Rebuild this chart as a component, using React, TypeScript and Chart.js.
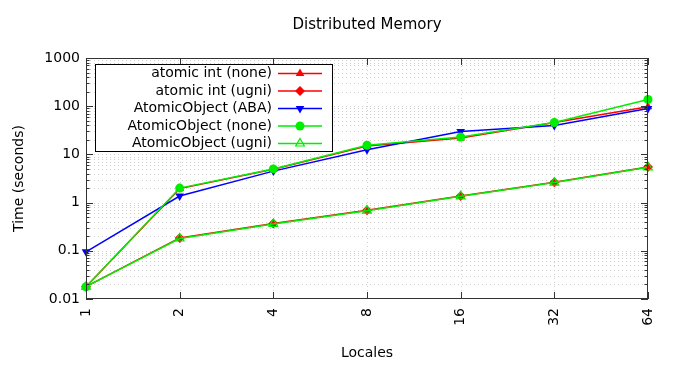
import React, { useEffect, useRef } from 'react';
import { Chart, registerables } from 'chart.js';

Chart.register(...registerables);

const locales = ['1', '2', '4', '8', '16', '32', '64'];

const atomicIntNone = [0.018, 1.95, 4.9, 15, 22, 46, 97];
const atomicIntUgni = [0.018, 0.185, 0.37, 0.69, 1.37, 2.63, 5.5];
const atomicObjectABA = [0.095, 1.37, 4.5, 12.5, 30, 40, 90];
const atomicObjectNone = [0.018, 2.0, 5.0, 15.5, 23, 46, 138];
const atomicObjectUgni = [0.018, 0.18, 0.36, 0.68, 1.35, 2.6, 5.4];

const seriesNames = [
  'atomic int (none)',
  'atomic int (ugni)',
  'AtomicObject (ABA)',
  'AtomicObject (none)',
  'AtomicObject (ugni)',
];
const seriesData = [atomicIntNone, atomicIntUgni, atomicObjectABA, atomicObjectNone, atomicObjectUgni];
const seriesColors = ['#ff0000', '#ff0000', '#0000ff', '#00ee00', '#00ee00'];
const seriesMarkers = ['triangle', 'diamond', 'invtriangle', 'circle', 'opentriangle'];

const yTickValues = [0.01, 0.1, 1, 10, 100, 1000];
const yTickLabels = ['0.01', '0.1', '1', '10', '100', '1000'];

const titleText = 'Distributed Memory';
const xTitle = 'Locales';
const yTitle = 'Time (seconds)';

const FONT = '"DejaVu Sans", sans-serif';

function drawMarker(ctx: CanvasRenderingContext2D, kind: string, x: number, y: number, color: string) {
  const r = 5;
  ctx.save();
  ctx.fillStyle = color;
  ctx.strokeStyle = color;
  ctx.lineWidth = 1.2;
  ctx.setLineDash([]);
  ctx.beginPath();
  if (kind === 'triangle' || kind === 'opentriangle') {
    for (let k = 0; k < 3; k++) {
      const a = (k * 2 * Math.PI) / 3;
      const px = x + Math.sin(a) * r;
      const py = y - Math.cos(a) * r;
      if (k === 0) ctx.moveTo(px, py); else ctx.lineTo(px, py);
    }
    ctx.closePath();
  } else if (kind === 'invtriangle') {
    for (let k = 0; k < 3; k++) {
      const a = (k * 2 * Math.PI) / 3 + Math.PI;
      const px = x + Math.sin(a) * r;
      const py = y - Math.cos(a) * r;
      if (k === 0) ctx.moveTo(px, py); else ctx.lineTo(px, py);
    }
    ctx.closePath();
  } else if (kind === 'diamond') {
    ctx.moveTo(x, y - r);
    ctx.lineTo(x + r, y);
    ctx.lineTo(x, y + r);
    ctx.lineTo(x - r, y);
    ctx.closePath();
  } else {
    ctx.arc(x, y, 4.5, 0, Math.PI * 2);
  }
  if (kind === 'opentriangle') ctx.stroke(); else ctx.fill();
  ctx.restore();
}

const decorPlugin = {
  id: 'decor',
  beforeDatasetsDraw(chart: any) {
    const { ctx, chartArea: a, scales } = chart;
    const x = scales.x;
    const y = scales.y;
    ctx.save();
    ctx.strokeStyle = '#cfcfcf';
    ctx.lineWidth = 1;
    ctx.setLineDash([1, 3]);
    for (let d = -2; d <= 2; d++) {
      for (let m = 1; m <= 9; m++) {
        const v = m * Math.pow(10, d);
        const py = Math.round(y.getPixelForValue(v)) + 0.5;
        if (py <= a.top + 1 || py >= a.bottom - 1) continue;
        ctx.beginPath();
        ctx.moveTo(a.left, py);
        ctx.lineTo(a.right, py);
        ctx.stroke();
      }
    }
    for (let i = 1; i < locales.length - 1; i++) {
      const px = Math.round(x.getPixelForValue(i)) + 0.5;
      ctx.beginPath();
      ctx.moveTo(px, a.top);
      ctx.lineTo(px, a.bottom);
      ctx.stroke();
    }
    ctx.restore();
  },
  afterDatasetsDraw(chart: any) {
    const { ctx, chartArea: a, scales } = chart;
    const x = scales.x;
    const y = scales.y;
    ctx.save();
    ctx.setLineDash([]);
    ctx.strokeStyle = '#333333';
    ctx.lineWidth = 1;
    ctx.strokeRect(a.left + 0.5, a.top + 0.5, a.right - a.left - 1, a.bottom - a.top - 1);
    for (let d = -2; d <= 2; d++) {
      for (let m = 1; m <= 9; m++) {
        const v = m * Math.pow(10, d);
        const py = Math.round(y.getPixelForValue(v)) + 0.5;
        const len = m === 1 ? 7 : 3.5;
        ctx.beginPath();
        ctx.moveTo(a.left, py);
        ctx.lineTo(a.left + len, py);
        ctx.moveTo(a.right, py);
        ctx.lineTo(a.right - len, py);
        ctx.stroke();
      }
    }
    for (let i = 0; i < locales.length; i++) {
      const px = Math.round(x.getPixelForValue(i)) + 0.5;
      ctx.beginPath();
      ctx.moveTo(px, a.bottom);
      ctx.lineTo(px, a.bottom - 7);
      ctx.moveTo(px, a.top);
      ctx.lineTo(px, a.top + 7);
      ctx.stroke();
    }

    const bx = 95.5, by = 64.5, bw = 237, bh = 87;
    ctx.fillStyle = '#ffffff';
    ctx.fillRect(bx, by, bw, bh);
    ctx.strokeStyle = '#000000';
    ctx.strokeRect(bx, by, bw, bh);
    ctx.font = `14px ${FONT}`;
    ctx.textAlign = 'right';
    ctx.textBaseline = 'middle';
    const rowY = [73.5, 91, 108.5, 126, 143.5];
    for (let i = 0; i < seriesNames.length; i++) {
      const ry = rowY[i];
      ctx.fillStyle = '#000000';
      ctx.fillText(seriesNames[i], 272, ry);
      ctx.strokeStyle = seriesColors[i];
      ctx.lineWidth = 1.5;
      ctx.beginPath();
      ctx.moveTo(278, ry);
      ctx.lineTo(322, ry);
      ctx.stroke();
      drawMarker(ctx, seriesMarkers[i], 300, ry, seriesColors[i]);
    }

    ctx.fillStyle = '#000000';
    ctx.textAlign = 'center';
    ctx.textBaseline = 'middle';
    ctx.font = `15px ${FONT}`;
    ctx.fillText(titleText, (a.left + a.right) / 2, 25);
    ctx.font = `14px ${FONT}`;
    ctx.fillText(xTitle, (a.left + a.right) / 2, 353);
    ctx.save();
    ctx.translate(19, (a.top + a.bottom) / 2);
    ctx.rotate(-Math.PI / 2);
    ctx.fillText(yTitle, 0, 0);
    ctx.restore();
    ctx.restore();
  },
};

export default function App() {
  const canvasRef = useRef<HTMLCanvasElement | null>(null);

  useEffect(() => {
    if (!canvasRef.current) return;
    const n = seriesNames.length;
    const datasets = seriesNames.map((name, i) => {
      const mk = seriesMarkers[i];
      const pointStyle = mk === 'diamond' ? 'rectRot' : mk === 'circle' ? 'circle' : 'triangle';
      return {
        label: name,
        data: seriesData[i],
        borderColor: seriesColors[i],
        backgroundColor: seriesColors[i],
        pointBackgroundColor: mk === 'opentriangle' ? 'rgba(0,0,0,0)' : seriesColors[i],
        pointBorderColor: seriesColors[i],
        pointBorderWidth: mk === 'opentriangle' ? 1.2 : 0,
        pointStyle,
        pointRotation: mk === 'invtriangle' ? 180 : 0,
        pointRadius: mk === 'circle' ? 4.5 : 5,
        borderWidth: 1.5,
        tension: 0,
        fill: false,
        clip: false,
        order: n - 1 - i,
      };
    });

    const chart = new Chart(canvasRef.current, {
      type: 'line',
      data: { labels: locales, datasets },
      plugins: [decorPlugin],
      options: {
        animation: false,
        responsive: true,
        maintainAspectRatio: false,
        layout: { padding: { top: 58, left: 0, right: 28, bottom: 0 } },
        plugins: {
          legend: { display: false },
          title: { display: false },
          tooltip: { enabled: false },
        },
        scales: {
          x: {
            type: 'category',
            offset: false,
            grid: { display: false, drawTicks: false },
            border: { display: false },
            ticks: {
              autoSkip: false,
              minRotation: 90,
              maxRotation: 90,
              padding: 9,
              color: '#000000',
              font: { family: FONT, size: 14 },
            },
            afterFit(scale: any) {
              scale.height = 88;
            },
          },
          y: {
            type: 'logarithmic',
            min: 0.01,
            max: 1000,
            grid: { display: false, drawTicks: false },
            border: { display: false },
            ticks: {
              padding: 6,
              color: '#000000',
              font: { family: FONT, size: 14 },
              callback: (_v: any, idx: number) => yTickLabels[idx],
            },
            afterBuildTicks(scale: any) {
              scale.ticks = yTickValues.map((v) => ({ value: v }));
            },
            afterFit(scale: any) {
              scale.width = 86;
            },
          },
        },
      },
    });
    return () => chart.destroy();
  }, []);

  return (
    <div style={{ position: 'fixed', left: 0, top: 0, width: 676, height: 387, background: '#ffffff' }}>
      <canvas ref={canvasRef} />
    </div>
  );
}
